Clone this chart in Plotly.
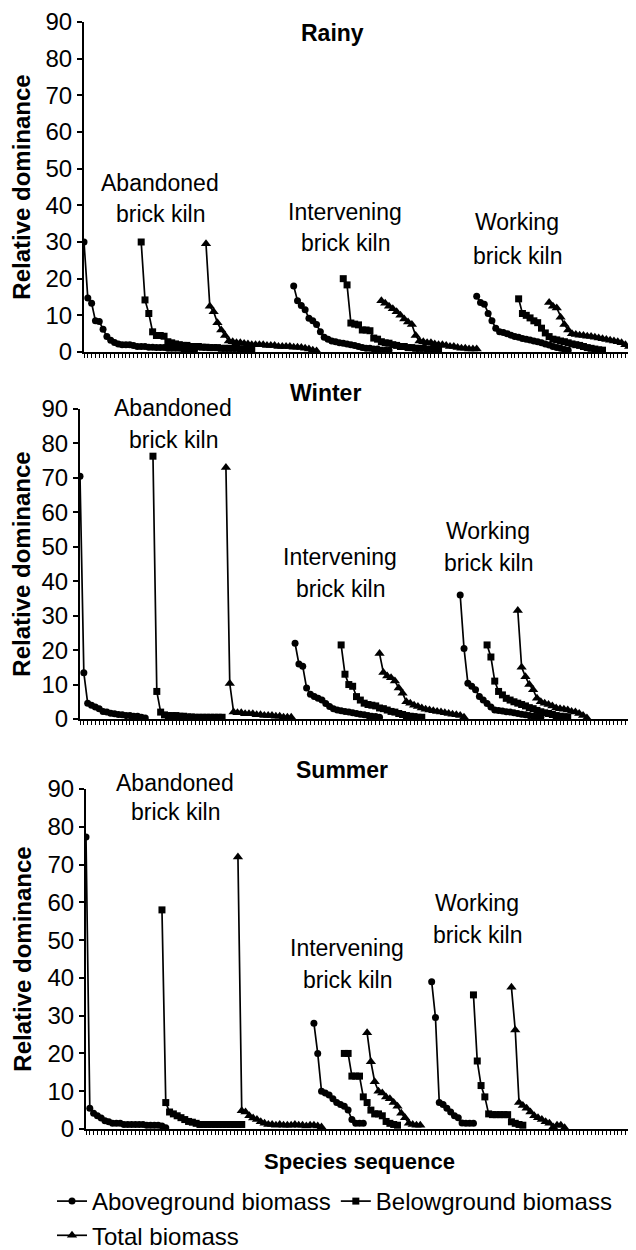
import plotly.graph_objects as go

# ---------------- data ----------------
n_positions = 145  # species sequence positions on the x axis
sites = ["Abandoned", "Intervening", "Working"]
biomass_types = ["Aboveground biomass", "Belowground biomass", "Total biomass"]
seasons = ["Rainy", "Winter", "Summer"]
y_ticks = [0, 10, 20, 30, 40, 50, 60, 70, 80, 90]

# Rainy
rainy_above_start = [0, 55, 103]
rainy_below_start = [15, 68, 114]
rainy_total_start = [32, 78, 122]
rainy_above_abandoned = [30, 14.7, 13.3, 8.5, 8.3, 6.2, 4.2, 3.2, 2.6, 2.2, 2.0, 2.0, 2.0, 1.8, 1.5, 1.5, 1.5, 1.3, 1.3, 1.2, 1.2, 1.2, 1.0, 1.0, 1.0, 1.0, 0.8, 0.8, 0.8, 0.5]
rainy_below_abandoned = [30, 14.2, 10.5, 5.5, 4.5, 4.5, 4.3, 2.8, 2.5, 2.2, 2.0, 1.8, 1.8, 1.5, 1.5, 1.5, 1.3, 1.3, 1.2, 1.2, 1.2, 1.0, 1.0, 1.0, 1.0, 1.0, 0.8, 0.8, 0.8, 0.8]
rainy_total_abandoned = [29.5, 12.5, 11, 8, 6, 4.5, 3, 2.8, 2.5, 2.5, 2.3, 2.2, 2, 2, 2, 2, 1.8, 1.8, 1.8, 1.5, 1.5, 1.5, 1.5, 1.3, 1.3, 1.2, 1, 0.8, 0.5, 0.3]
rainy_above_intervening = [18, 14, 12.7, 11.5, 9.2, 8.5, 7.5, 5.5, 4, 3.5, 3, 2.8, 2.5, 2.4, 2.2, 2, 1.8, 1.5, 1.2, 1, 1, 0.8, 0.8, 0.5, 0.5, 0.5]
rainy_below_intervening = [20, 18.3, 7.9, 7.6, 7.4, 6, 6, 5.8, 3.8, 3.5, 2.8, 2.5, 2.4, 2, 1.8, 1.5, 1.5, 1.2, 1.2, 1, 1, 1, 0.8, 0.8, 0.5, 0.5]
rainy_total_intervening = [14, 13.3, 12.5, 11.8, 11, 10, 9, 8.2, 7.5, 4.5, 3, 2.8, 2.5, 2.5, 2.2, 2, 2, 1.8, 1.5, 1.5, 1.2, 1, 1, 0.8, 0.8, 0.8]
rainy_above_working = [15.2, 13.5, 13, 10.5, 8.5, 6.5, 5.5, 5.3, 5, 4.6, 4.2, 4, 3.7, 3.5, 3.3, 3, 2.8, 2.5, 2.2, 1.9, 1.5, 1.2, 1, 0.7, 0.5]
rainy_below_working = [14.5, 10.5, 10, 9.3, 8.5, 8, 6.5, 5.2, 4.2, 3.5, 3.3, 3, 2.8, 2.5, 2.2, 2, 1.8, 1.5, 1.2, 1, 0.8, 0.6, 0.5]
rainy_total_working = [13.5, 12.5, 12, 9.5, 7.5, 6, 5, 4.8, 4.6, 4.5, 4.3, 4.2, 4, 3.8, 3.6, 3.4, 3.2, 3, 2.8, 2.5, 2, 1.5, 1]

# Winter
winter_above_start = [0, 56, 99]
winter_below_start = [19, 68, 106]
winter_total_start = [38, 78, 114]
winter_above_abandoned = [70.5, 13.4, 4.6, 4, 3.5, 3, 2.2, 2, 1.7, 1.5, 1.3, 1.2, 1, 1, 0.8, 0.8, 0.5, 0.3]
winter_below_abandoned = [76.3, 8, 2, 1.2, 1, 1, 1, 0.8, 0.8, 0.6, 0.6, 0.5, 0.5, 0.5, 0.5, 0.5, 0.5, 0.5, 0.5]
winter_total_abandoned = [73, 10.3, 2, 1.8, 1.8, 1.5, 1.5, 1.5, 1.2, 1.2, 1, 1, 1, 0.8, 0.8, 0.5, 0.5, 0.5]
winter_above_intervening = [22, 16, 15.3, 9, 7.2, 6.5, 6, 5.5, 4.5, 3.6, 3, 2.6, 2.4, 2.2, 2, 1.8, 1.6, 1.4, 1.2, 1, 0.8, 0.7, 0.5]
winter_below_intervening = [21.5, 13, 10, 9.5, 6.5, 5.5, 4.6, 4.2, 4, 3.8, 3.2, 3, 2.6, 2.2, 2, 1.6, 1.3, 1, 0.8, 0.7, 0.5, 0.5]
winter_total_intervening = [19, 13.5, 12.5, 12, 11, 9, 7.5, 5, 4.6, 4, 3.6, 3.2, 2.8, 2.6, 2.4, 2.2, 2, 1.8, 1.6, 1.4, 1.2, 1, 0.5]
winter_above_working = [36, 20.5, 10.4, 9.5, 8.5, 6.5, 5.5, 4.5, 3.5, 2.6, 2.5, 2.3, 2.1, 2, 1.8, 1.6, 1.4, 1.2, 1, 0.8, 0.7, 0.5]
winter_below_working = [21.5, 18, 11, 8, 7, 6, 5.5, 5, 4.6, 4.2, 3.8, 3.3, 3, 2.5, 2.1, 1.8, 1.6, 1.3, 1, 0.8, 0.7, 0.5]
winter_total_working = [31.5, 15, 12.3, 10, 8.5, 6, 5, 4.6, 4.2, 3.8, 3.2, 3, 2.8, 2.6, 2.2, 2, 1.6, 1, 0.3]

# Summer
summer_above_start = [0, 60, 91]
summer_below_start = [20, 68, 102]
summer_total_start = [40, 74, 112]
summer_above_abandoned = [77.3, 5.5, 4.2, 3.5, 2.9, 2.2, 1.9, 1.5, 1.5, 1.5, 1.2, 1.2, 1.2, 1.2, 1.2, 1.2, 1, 1, 1, 1, 0.8, 0.3]
summer_below_abandoned = [58, 7, 4.5, 4, 3.5, 3, 2.5, 2, 1.8, 1.5, 1.2, 1.2, 1.2, 1.2, 1.2, 1.2, 1.2, 1.2, 1.2, 1.2, 1.2, 1.2]
summer_total_abandoned = [72, 4.8, 4.5, 3.5, 2.9, 2.5, 1.9, 1.5, 1.2, 1.2, 1, 1.2, 1, 1, 1, 1.2, 1, 1, 0.8, 1, 1, 0.8, 0.5]
summer_above_intervening = [28, 20, 10, 9.5, 9, 8, 7, 6.5, 6, 5, 2.5, 1.5, 1.5, 1.5]
summer_below_intervening = [20, 20, 14, 14, 14, 8.5, 7, 5, 4, 4, 3.5, 2, 1.5, 1.2, 1]
summer_total_intervening = [25.5, 17.8, 12.5, 10, 9.5, 8.5, 8, 7, 6, 4.2, 3, 1.5, 1.2, 1, 1]
summer_above_working = [39, 29.5, 7, 6.5, 5.5, 4.5, 3.5, 3, 1.6, 1.5, 1.5, 1.5]
summer_below_working = [35.5, 18, 11.5, 8.5, 4, 3.8, 3.8, 3.8, 3.8, 3.8, 1.9, 1.5, 1.2, 1]
summer_total_working = [37.5, 26.2, 7, 6.2, 5.5, 4.5, 3.5, 3, 2.5, 1.9, 1.5, 0.5, 1, 1, 0.3]

# ---------------- assembly ----------------
panel_data = {
    "Rainy": [
        (rainy_above_start, [rainy_above_abandoned, rainy_above_intervening, rainy_above_working]),
        (rainy_below_start, [rainy_below_abandoned, rainy_below_intervening, rainy_below_working]),
        (rainy_total_start, [rainy_total_abandoned, rainy_total_intervening, rainy_total_working]),
    ],
    "Winter": [
        (winter_above_start, [winter_above_abandoned, winter_above_intervening, winter_above_working]),
        (winter_below_start, [winter_below_abandoned, winter_below_intervening, winter_below_working]),
        (winter_total_start, [winter_total_abandoned, winter_total_intervening, winter_total_working]),
    ],
    "Summer": [
        (summer_above_start, [summer_above_abandoned, summer_above_intervening, summer_above_working]),
        (summer_below_start, [summer_below_abandoned, summer_below_intervening, summer_below_working]),
        (summer_total_start, [summer_total_abandoned, summer_total_intervening, summer_total_working]),
    ],
}


def build_series(starts, value_lists):
    xs, ys = [], []
    for s, vals in zip(starts, value_lists):
        xs += list(range(s, s + len(vals))) + [None]
        ys += list(vals) + [None]
    return xs, ys


W, H = 636, 1250
OFF = 8  # page body margin: figure pixel = screen pixel - OFF
FONT = "Liberation Sans, Arial, Helvetica, sans-serif"
marker_styles = [
    dict(symbol="circle", size=7),
    dict(symbol="square", size=7),
    dict(symbol="triangle-up", size=9),
]

# screen-pixel geometry of the three panels: (axis x-left, y of 0, y of 90)
panel_geom = {
    "Rainy": (84, 352, 22),
    "Winter": (80, 719, 409),
    "Summer": (86, 1129, 789),
}
x_right = 633


def px(x):
    return (x - OFF) / W


def py(y):
    return 1 - (y - OFF) / H


fig = go.Figure()
for pi, season in enumerate(seasons):
    suffix = "" if pi == 0 else str(pi + 1)
    for ti, (starts, lists) in enumerate(panel_data[season]):
        xs, ys = build_series(starts, lists)
        fig.add_trace(go.Scatter(
            x=xs, y=ys, mode="lines+markers", name=biomass_types[ti],
            legendgroup=biomass_types[ti], showlegend=(pi == 0),
            line=dict(color="black", width=1.7),
            marker=dict(color="black", **marker_styles[ti]),
            xaxis="x" + suffix, yaxis="y" + suffix, connectgaps=False,
        ))

layout = dict(
    width=W, height=H, margin=dict(l=0, r=0, t=0, b=0, autoexpand=False),
    paper_bgcolor="white", plot_bgcolor="white",
    font=dict(family=FONT, color="black", size=22),
    showlegend=True,
)
for pi, season in enumerate(seasons):
    suffix = "" if pi == 0 else str(pi + 1)
    xl, y0, y90 = panel_geom[season]
    xa = dict(
        domain=[px(xl), px(x_right)], anchor="y" + suffix,
        range=[0, n_positions - 1], tick0=0, dtick=1,
        showline=True, linecolor="black", linewidth=2,
        ticks="outside", ticklen=4, tickwidth=1, tickcolor="black",
        showticklabels=False, showgrid=False, zeroline=False,
        automargin=False,
    )
    if season == "Summer":
        xa["title"] = dict(text="Species sequence", standoff=20,
                           font=dict(size=22, family=FONT, weight="bold"))
    ya = dict(
        domain=[py(y0), py(y90)], anchor="x" + suffix,
        range=[0, 90], tickvals=y_ticks,
        showline=True, linecolor="black", linewidth=2,
        ticks="outside", ticklen=5, tickwidth=1.5, tickcolor="black",
        tickfont=dict(size=24, family=FONT),
        showgrid=False, zeroline=False, automargin=False,
        title=dict(text="Relative dominance", standoff=9,
                   font=dict(size=24, family=FONT, weight="bold")),
    )
    layout["xaxis" + suffix] = xa
    layout["yaxis" + suffix] = ya

# text labels (screen-pixel centers)
season_title_pos = {"Rainy": (332, 33), "Winter": (325, 393), "Summer": (342, 770)}
site_label_pos = {
    "Rainy": [(160, 183, 214), (345, 212, 243), (517, 222, 256)],
    "Winter": [(173, 408, 440), (340, 557, 589), (488, 531, 563)],
    "Summer": [(175, 783, 812), (347, 948, 980), (477, 903, 935)],
}
annotations = []
for season in seasons:
    x, y = season_title_pos[season]
    annotations.append(dict(
        text=season, x=px(x), y=py(y), xref="paper", yref="paper",
        showarrow=False, xanchor="center", yanchor="middle",
        font=dict(size=23, family=FONT, weight="bold"),
    ))
    for si, site in enumerate(sites):
        x, y1, y2 = site_label_pos[season][si]
        for txt, yy in ((site, y1), ("brick kiln", y2)):
            annotations.append(dict(
                text=txt, x=px(x), y=py(yy),
                xref="paper", yref="paper", showarrow=False,
                xanchor="center", yanchor="middle",
                font=dict(size=23, family=FONT),
            ))
layout["annotations"] = annotations
layout["legend"] = dict(
    orientation="h", x=px(52), xanchor="left", y=py(1179), yanchor="top",
    font=dict(size=24, family=FONT), bgcolor="rgba(0,0,0,0)",
    tracegroupgap=0, itemwidth=30,
)
fig.update_layout(**layout)
fig.write_html("out.html")
